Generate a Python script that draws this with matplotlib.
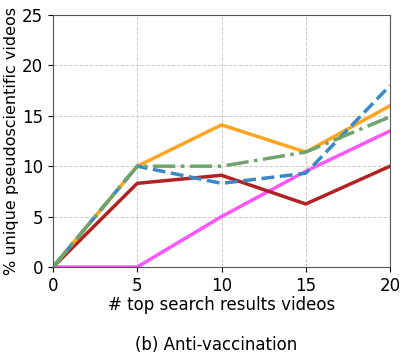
import matplotlib.pyplot as plt

x = [0, 5, 10, 15, 20]
magenta = [0, 0, 5, 9.5, 13.5]
red = [0, 8.3, 9.1, 6.25, 10]
orange = [0, 10, 14.1, 11.4, 16]
blue = [0, 10, 8.3, 9.3, 18]
green = [0, 10, 10, 11.4, 14.9]

fig = plt.figure(figsize=(4.07, 3.62), dpi=100)
ax = fig.add_axes([53 / 407, 1 - 267 / 362, 337 / 407, 252 / 362])

ax.plot(x, magenta, color='#ff55ff', lw=2.5)
ax.plot(x, red, color='#b22222', lw=2.5)
ax.plot(x, orange, color='#ffa520', lw=2.5)
ax.plot(x, blue, color='#3a88c4', lw=2.5, ls='--')
ax.plot(x, green, color='#6fa56a', lw=2.5, ls='-.')

ax.set_xlim(0, 20)
ax.set_ylim(0, 25)
ax.set_xticks([0, 5, 10, 15, 20])
ax.set_yticks([0, 5, 10, 15, 20, 25])
ax.tick_params(labelsize=12)
ax.grid(True, ls='--', color='#cccccc', lw=0.7)
for s in ax.spines.values():
    s.set_color('#555555')

ax.set_xlabel('# top search results videos', fontsize=12, labelpad=1)
ax.set_ylabel('% unique pseudoscientific videos', fontsize=11.5, labelpad=2)
fig.text(0.53, 1 - 345 / 362, '(b) Anti-vaccination', ha='center', va='center', fontsize=12)

fig.savefig('out.png', dpi=100)
